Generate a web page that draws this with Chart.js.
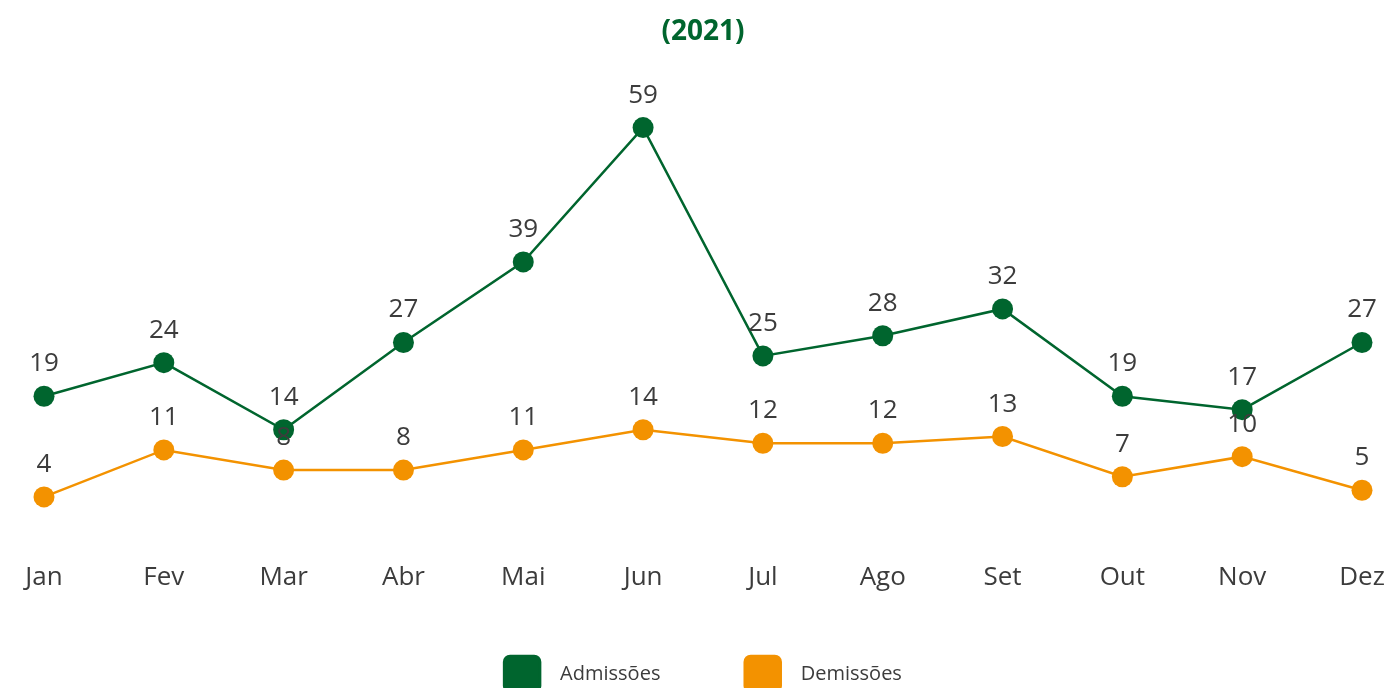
<!DOCTYPE html>
<html>
<head>
<meta charset="utf-8">
<script src="https://cdn.jsdelivr.net/npm/chart.js@4.4.1/dist/chart.umd.min.js"></script>
<style>
  html, body { margin: 0; padding: 0; background: #fff; overflow: hidden; }
  #wrap { position: relative; width: 1397px; height: 702px; }
</style>
</head>
<body>
<div id="wrap"><canvas id="chart"></canvas></div>
<script>
// Datos del gráfico
const meses = ['Jan', 'Fev', 'Mar', 'Abr', 'Mai', 'Jun', 'Jul', 'Ago', 'Set', 'Out', 'Nov', 'Dez'];
const admissoes = [19, 24, 14, 27, 39, 59, 25, 28, 32, 19, 17, 27];
const demissoes = [4, 11, 8, 8, 11, 14, 12, 12, 13, 7, 10, 5];

const VERDE = '#00652e';
const LARANJA = '#f39200';
const TEXTO = '#3c3c3c';
const FONTE = "'Open Sans', 'DejaVu Sans', sans-serif";

// Plugin simple para escribir el valor encima de cada punto
const rotulos = {
    id: 'rotulos',
    afterDatasetsDraw(chart) {
        const ctx = chart.ctx;
        ctx.save();
        ctx.font = '26px ' + FONTE;
        ctx.fillStyle = TEXTO;
        ctx.textAlign = 'center';
        ctx.textBaseline = 'alphabetic';
        chart.data.datasets.forEach((ds, i) => {
            const meta = chart.getDatasetMeta(i);
            meta.data.forEach((pt, j) => {
                ctx.fillText(ds.data[j], pt.x, pt.y - 25);
            });
        });
        ctx.restore();
    }
};

new Chart(document.getElementById('chart'), {
    type: 'line',
    data: {
        labels: meses,
        datasets: [{
            label: 'Admissões',
            data: admissoes,
            borderColor: VERDE,
            backgroundColor: VERDE,
            borderWidth: 2.5,
            pointRadius: 10.5,
            pointBorderWidth: 0,
            pointBackgroundColor: VERDE,
            tension: 0,
            clip: false
        }, {
            label: 'Demissões',
            data: demissoes,
            borderColor: LARANJA,
            backgroundColor: LARANJA,
            borderWidth: 2.5,
            pointRadius: 10.5,
            pointBorderWidth: 0,
            pointBackgroundColor: LARANJA,
            tension: 0,
            clip: false
        }]
    },
    options: {
        responsive: true,
        maintainAspectRatio: false,
        animation: false,
        layout: { autoPadding: false, padding: { left: 44, right: 35, top: 0, bottom: 0 } },
        plugins: {
            title: {
                display: true,
                text: '(2021)',
                color: VERDE,
                font: { family: FONTE, size: 28, weight: 'bold' },
                padding: { top: 15, bottom: 79 }
            },
            legend: {
                position: 'bottom',
                labels: {
                    color: TEXTO,
                    font: { family: FONTE, size: 20 },
                    boxWidth: 36,
                    boxHeight: 36,
                    useBorderRadius: true,
                    borderRadius: 6,
                    padding: 61,
                    // espacio extra entre el cuadro, el texto y el siguiente item
                    generateLabels(chart) {
                        const items = Chart.defaults.plugins.legend.labels.generateLabels(chart);
                        items.forEach((it, i) => {
                            it.text = '\u2002' + it.text + (i < items.length - 1 ? '\u2003\u2009' : '');
                        });
                        return items;
                    }
                }
            },
            tooltip: { enabled: false }
        },
        scales: {
            x: {
                offset: false,
                grid: { display: false, drawTicks: true, tickLength: 36 },
                border: { display: false },
                ticks: {
                    color: TEXTO,
                    font: { family: FONTE, size: 26 },
                    padding: 2,
                    maxRotation: 0,
                    autoSkip: false
                }
            },
            y: {
                display: false,
                min: 0,
                max: 59
            }
        }
    },
    plugins: [rotulos]
});
</script>
</body>
</html>
